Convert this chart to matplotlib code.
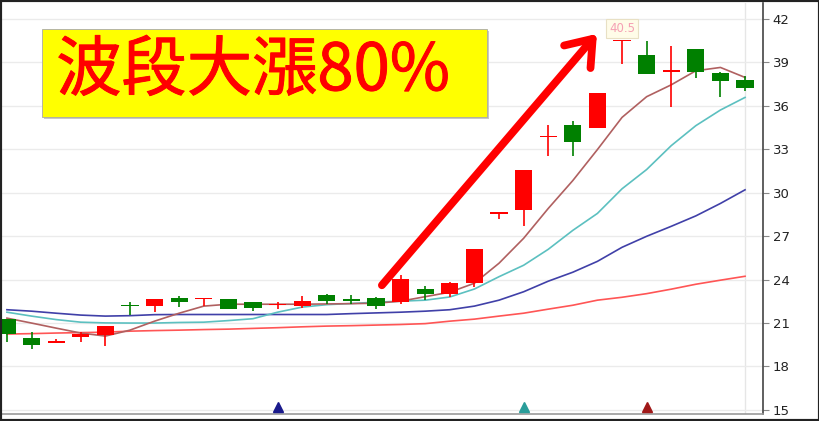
import matplotlib
matplotlib.use("Agg")
import matplotlib.pyplot as plt
import matplotlib.transforms as mtransforms
import matplotlib.patheffects as pe
from matplotlib.patches import Rectangle
import numpy as np

# daily candles (index 0..30)
opens = [21.25, 19.94, 19.62, 20.01, 20.17, 22.25, 22.19, 22.76, 22.66, 22.65,
         22.42, 22.23, 22.19, 22.92, 22.65, 22.76, 22.46, 23.34, 23.04, 23.77,
         28.50, 28.82, 33.82, 34.70, 34.49, 40.45, 39.50, 38.35, 39.95, 38.30, 37.78]
highs = [21.30, 20.35, 19.91, 20.37, 20.81, 22.46, 22.69, 22.88, 22.69, 22.65,
         22.45, 22.46, 22.85, 23.04, 22.92, 22.80, 24.35, 23.56, 23.84, 26.14,
         28.66, 31.58, 34.70, 34.98, 36.86, 40.50, 40.50, 40.14, 39.95, 38.35, 38.05]
lows = [19.70, 19.20, 19.60, 19.71, 19.43, 21.55, 21.77, 22.12, 22.19, 21.94,
        21.84, 21.94, 22.01, 22.35, 22.35, 21.94, 22.35, 22.58, 22.81, 23.50,
        28.20, 27.70, 32.56, 32.56, 34.49, 38.92, 38.23, 35.94, 37.91, 36.63, 37.04]
closes = [20.24, 19.48, 19.75, 20.22, 20.81, 22.21, 22.69, 22.42, 22.69, 21.94,
          22.05, 22.33, 22.51, 22.53, 22.53, 22.19, 24.02, 23.04, 23.77, 26.14,
          28.66, 31.58, 33.92, 33.48, 36.86, 40.50, 38.23, 38.45, 38.37, 37.73, 37.23]

# moving averages
ma_short = [21.34, 21.00, 20.65, 20.31, 20.10, 20.51, 21.13, 21.68, 22.17, 22.30,
            22.30, 22.30, 22.30, 22.32, 22.34, 22.37, 22.51, 22.82, 23.13, 23.75,
            25.13, 26.85, 28.91, 30.84, 32.98, 35.20, 36.63, 37.45, 38.42, 38.65, 37.96]
ma_mid = [21.75, 21.48, 21.24, 21.06, 21.01, 21.00, 21.00, 21.04, 21.06, 21.17,
          21.30, 21.75, 22.10, 22.27, 22.35, 22.44, 22.51, 22.58, 22.80, 23.35,
          24.20, 24.99, 26.09, 27.40, 28.57, 30.27, 31.60, 33.25, 34.63, 35.71, 36.58]
ma_long = [21.92, 21.82, 21.68, 21.55, 21.48, 21.51, 21.58, 21.59, 21.59, 21.59,
           21.59, 21.59, 21.59, 21.59, 21.65, 21.70, 21.75, 21.82, 21.92, 22.17,
           22.58, 23.16, 23.89, 24.51, 25.26, 26.23, 26.99, 27.68, 28.40, 29.26, 30.20]
ma_year = [20.24, 20.27, 20.31, 20.34, 20.37, 20.44, 20.48, 20.51, 20.55, 20.58,
           20.63, 20.68, 20.74, 20.79, 20.82, 20.86, 20.90, 20.96, 21.13, 21.27,
           21.48, 21.68, 21.96, 22.23, 22.58, 22.78, 23.03, 23.34, 23.68, 23.96, 24.23]

# signal markers under the chart
signal_idx = [11, 21, 26]
signal_colors = ['#1a1a8c', '#2a9d9a', '#a01818']

y_ticks = [15, 18, 21, 24, 27, 30, 33, 36, 39, 42]
title_txt = '波段大漲80%'

UP = '#ff0000'
DOWN = '#008000'

fig = plt.figure(figsize=(8.2, 4.21), dpi=100, facecolor='white')
ax = fig.add_axes([2/820, 7/421, 761/820, 411/421])

x = np.arange(len(opens))
o = np.array(opens)
c = np.array(closes)
cols = [UP if cc >= oo else DOWN for oo, cc in zip(o, c)]

#moving averages
ax.plot(x, ma_year, color='#ff5555', lw=1.2, zorder=2)
ax.plot(x, ma_long, color='#4040a8', lw=1.2, zorder=2)
ax.plot(x, ma_mid, color='#5cc0c0', lw=1.2, zorder=2)
ax.plot(x, ma_short, color='#b06060', lw=1.2, zorder=2)

#candles
ax.vlines(x, lows, highs, colors=cols, lw=1.2, zorder=3)
body_lo = np.minimum(o, c)
body_h = np.maximum(np.abs(c - o), 0.07)
ax.bar(x, body_h, bottom=body_lo, width=0.7, color=cols, lw=0, zorder=4)

#grid + axes look
ax.set_xlim(-0.2, 30.73)
ax.set_ylim(14.72, 43.1)
ax.set_yticks(y_ticks)
ax.set_xticks([])
ax.yaxis.tick_right()
ax.tick_params(axis='y', length=4, width=0.8, color='#888888', pad=3,
               labelsize=9.5, labelcolor='#222222')
ax.grid(axis='y', color='#ebebeb', lw=1, zorder=0)
ax.axvline(x[-1], color='#e6e6e6', lw=1, zorder=0)
ax.spines['left'].set_visible(False)
ax.spines['top'].set_visible(False)
ax.spines['right'].set_color('#444444')
ax.spines['right'].set_linewidth(1.2)
ax.spines['bottom'].set_color('#999999')
ax.spines['bottom'].set_linewidth(1.2)

#signal triangles at the bottom
trans = mtransforms.blended_transform_factory(ax.transData, ax.transAxes)
for si, sc in zip(signal_idx, signal_colors):
    ax.plot(si, 0.018, marker='^', ms=6.5, color=sc, transform=trans,
            clip_on=False, zorder=5)

#max price label
imax = int(np.argmax(highs))
ax.annotate('{:g}'.format(max(highs)), xy=(x[imax], max(highs) + 0.85),
            ha='center', va='center', fontsize=8.5, color='#f5a0b4',
            bbox=dict(boxstyle='square,pad=0.25', fc='#fffce8', ec='#e8e0c4', lw=0.8),
            zorder=6)

#big red arrow
ax.annotate('', xy=(23.98, 40.97), xytext=(15.24, 23.61),
            arrowprops=dict(arrowstyle='->,head_length=1.7,head_width=1.25',
                            color='#ff0000', lw=5.6, shrinkA=0, shrinkB=0),
            zorder=7)

#yellow title box (with a faint shadow)
fig.patches.append(Rectangle((44/820, 1 - 119/421), 445/820, 88/421,
                             transform=fig.transFigure, fc='#c8c8c8',
                             ec='none', zorder=7))
fig.patches.append(Rectangle((42/820, 1 - 117/421), 445/820, 88/421,
                             transform=fig.transFigure, fc='#ffff00',
                             ec='#aaaaaa', lw=0.6, zorder=8))
fig.text(253/820, 1 - 72/421, title_txt, ha='center', va='center',
         fontsize=47, color='#ff0000', zorder=9,
         family=['Noto Sans CJK TC', 'DejaVu Sans'],
         path_effects=[pe.withStroke(linewidth=0.7, foreground='#ff0000')])

#outer frame
fig.patches.append(Rectangle((0, 0), 1, 1, transform=fig.transFigure,
                             fill=False, ec='#222222', lw=3, zorder=10))

fig.savefig('out.png', dpi=100, facecolor='white')
